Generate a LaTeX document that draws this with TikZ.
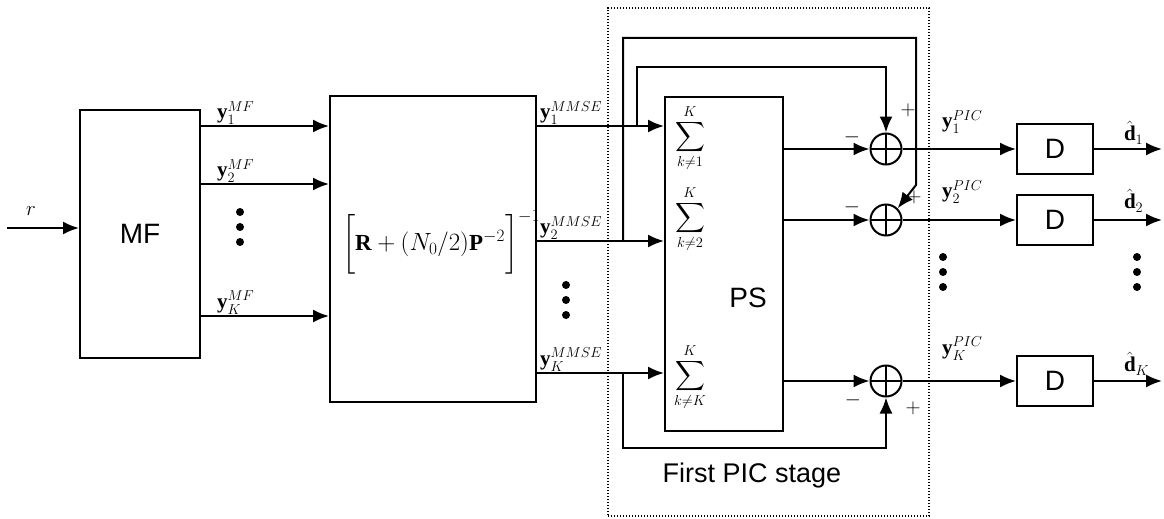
\documentclass[tikz,border=0pt]{standalone}
\usepackage{amsmath}
\usepackage{fontspec}
\setmainfont{Liberation Serif}
\newfontfamily\arialfont{Liberation Sans}
\usetikzlibrary{positioning,arrows.meta}

% three stacked dots
\newcommand{\vdts}[2]{\foreach \dd in {0,15,30} \fill (#1,#2+\dd) circle (4pt);}

\begin{document}
\begin{tikzpicture}[
      x=1pt, y=-1pt,
      line width=2pt, >={Latex[length=16pt,width=13pt]},
      blk/.style={draw, line width=2pt, inner sep=0pt, font=\arialfont\fontsize{28}{30}\selectfont},
      sumnode/.style={draw, circle, minimum size=31pt, inner sep=0pt, line width=2pt,
        path picture={\draw[line width=2pt] (path picture bounding box.north) -- (path picture bounding box.south)
          (path picture bounding box.west) -- (path picture bounding box.east);}},
      grp/.style={draw, line width=2.4pt, dash pattern=on 1.4pt off 1.6pt, inner sep=0pt},
      lbl/.style={font=\fontsize{21}{23}\selectfont, inner sep=1pt},
      sumlbl/.style={font=\fontsize{22}{24}\selectfont, inner sep=0pt},
      sgn/.style={font=\fontsize{20}{22}\selectfont, inner sep=0pt},
      ttl/.style={font=\arialfont\fontsize{27}{29}\selectfont, inner sep=0pt},
      ar/.style={->}
    ]
    \useasboundingbox (0,0) rectangle (1164,519);

    % ===== blocks =====
    \node[blk, minimum width=120pt, minimum height=248pt] (MF) at (140,234) {MF};
    \node[blk, minimum width=206pt, minimum height=306pt] (MX) at (433,249) {};
    \node[lbl, font=\fontsize{23}{25}\selectfont] (inv) at (441,242) {$\biggl[\mathbf{R}+(N_0/2)\mathbf{P}^{-2}\biggr]^{-1}$};
    \node[grp, minimum width=321pt, minimum height=508pt] (stage) at (768.5,262) {};
    \node[ttl] (stagelbl) at (752,476) {First PIC stage};
    \node[blk, minimum width=118pt, minimum height=334pt] (PS) at (724,264) {};
    \node[ttl, font=\arialfont\fontsize{28}{30}\selectfont] (pslbl) at (748,298) {PS};
    \node[sumlbl] (sg1) at (690,138) {$\displaystyle\sum_{k\neq 1}^{K}$};
    \node[sumlbl] (sg2) at (690,219) {$\displaystyle\sum_{k\neq 2}^{K}$};
    \node[sumlbl] (sgK) at (690,377) {$\displaystyle\sum_{k\neq K}^{K}$};

    % ===== adders and decision blocks =====
    \node[sumnode] (s1) at (886,149) {};
    \node[sumnode] (s2) at (886,220) {};
    \node[sumnode] (sK) at (886,381) {};
    \node[blk, minimum width=76pt, minimum height=50pt] (d1) at (1055,149) {D};
    \node[blk, minimum width=76pt, minimum height=50pt] (d2) at (1055,220) {D};
    \node[blk, minimum width=76pt, minimum height=50pt] (dK) at (1055,381) {D};

    \coordinate (rin) at (7,228);
    \coordinate (o1) at (1162,149);
    \coordinate (o2) at (1162,220);
    \coordinate (oK) at (1162,381);
    \coordinate (t1) at (637,126);
    \coordinate (t2) at (623,241);
    \coordinate (tK) at (623,373);
    \coordinate (k2) at (916,185);

    % ===== input =====
    \draw[ar] (rin) -- (rin -| MF.west);
    \node[lbl] (rlbl) at (31,211) {$r$};

    % ===== MF -> MMSE -> PS =====
    \foreach \yy/\i in {126/1,184/2,316/K}{
      \draw[ar] (MF.east |- 0,\yy) -- (MX.west |- 0,\yy);
      \node[lbl, anchor=south west, xshift=14pt] (mf\i) at (MF.east |- 0,\yy) {$\mathbf{y}_{\i}^{MF}$};
    }
    \foreach \yy/\i in {126/1,241/2,373/K}{
      \draw[ar] (MX.east |- 0,\yy) -- (PS.west |- 0,\yy);
      \node[lbl, anchor=south west, xshift=1pt] (mm\i) at (MX.east |- 0,\yy) {$\mathbf{y}_{\i}^{MMSE}$};
    }

    % ===== interference cancellation =====
    \draw[ar] (t1) -- (t1 |- 0,67) -| (s1.north);
    \draw[ar] (t2) -- (t2 |- 0,38) -| (k2) -- (s2.north east);
    \draw[ar] (tK) -- (tK |- 0,448) -| (sK.south);
    \foreach \s in {1,2,K}{
      \draw[ar] (PS.east |- s\s) -- (s\s);
      \draw[ar] (s\s) -- (d\s);
      \draw[ar] (d\s) -- (o\s);
    }

    % signs
    \node[sgn] (m1) at (852,137) {$-$};
    \node[sgn] (p1) at (908,110) {$+$};
    \node[sgn] (m2) at (852,207) {$-$};
    \node[sgn] (p2) at (914,197) {$+$};
    \node[sgn] (mK) at (853,400) {$-$};
    \node[sgn] (pK) at (913,408) {$+$};

    % output labels
    \node[lbl, anchor=south west] (pic1) at (940,135) {$\mathbf{y}_1^{PIC}$};
    \node[lbl, anchor=south west] (pic2) at (940,205) {$\mathbf{y}_2^{PIC}$};
    \node[lbl, anchor=south west] (picK) at (940,362) {$\mathbf{y}_K^{PIC}$};
    \node[lbl, anchor=south west] (dh1) at (1122,146) {$\hat{\mathbf{d}}_1$};
    \node[lbl, anchor=south west] (dh2) at (1122,214) {$\hat{\mathbf{d}}_2$};
    \node[lbl, anchor=south west] (dhK) at (1122,377) {$\hat{\mathbf{d}}_K$};

    % dots
    \vdts{240}{212}
    \vdts{566}{285}
    \vdts{943}{257}
    \vdts{1137}{257}
\end{tikzpicture}
\end{document}
